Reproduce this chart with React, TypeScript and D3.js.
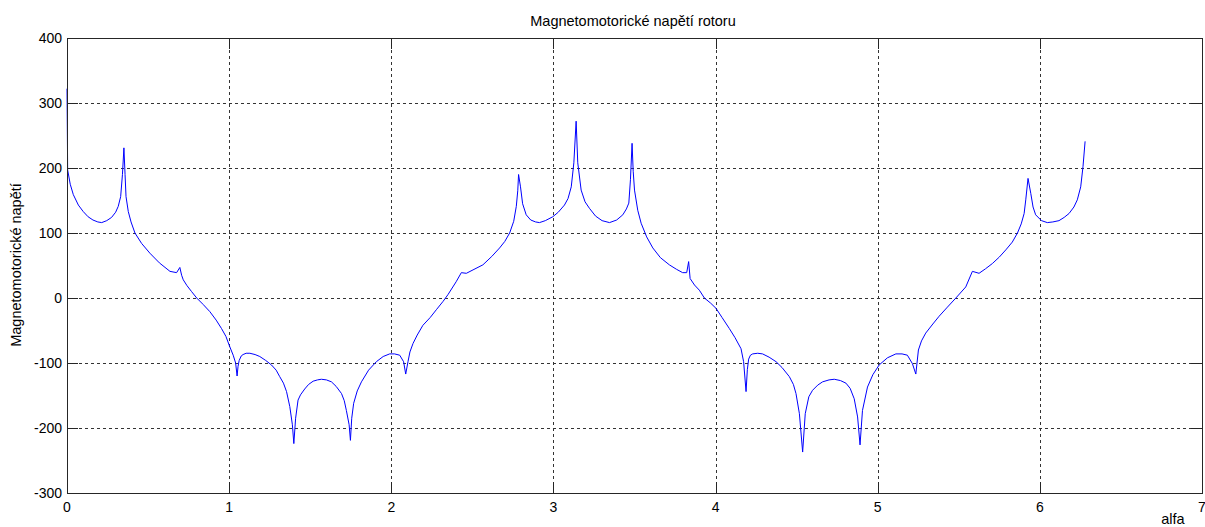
import React, { useEffect, useRef } from 'react';
import * as d3 from 'd3';

// uhel alfa [rad]
const alfa = [
  0, 0.004, 0.02, 0.039, 0.07, 0.10, 0.13, 0.16, 0.19, 0.214, 0.245, 0.275, 0.30, 0.316, 0.331, 0.342, 0.351, 0.358, 0.364,
  0.378, 0.395, 0.419, 0.46, 0.511, 0.57, 0.635, 0.676, 0.696, 0.707, 0.717, 0.74, 0.768, 0.80,
  0.84, 0.881, 0.92, 0.953, 0.98, 1.004, 1.025, 1.040, 1.049, 1.055, 1.062, 1.075, 1.086, 1.105, 1.128, 1.16, 1.189,
  1.225, 1.261, 1.29, 1.312, 1.335, 1.354, 1.374, 1.390, 1.399, 1.410, 1.425, 1.44, 1.466, 1.49, 1.518, 1.545, 1.569,
  1.60, 1.631, 1.66, 1.693, 1.71, 1.723, 1.740, 1.748, 1.756, 1.768, 1.79, 1.816, 1.86, 1.908, 1.95, 1.99, 2.02, 2.052,
  2.076, 2.089, 2.103, 2.115, 2.134, 2.16, 2.195, 2.24, 2.278, 2.32, 2.349,
  2.40, 2.432, 2.463, 2.51, 2.565, 2.62, 2.668, 2.70, 2.730, 2.755, 2.771, 2.780, 2.785, 2.797, 2.81, 2.832, 2.86, 2.89,
  2.914, 2.95, 2.996, 3.03, 3.068, 3.09, 3.11, 3.126, 3.14, 3.150, 3.171, 3.195, 3.222, 3.26, 3.30, 3.346, 3.39, 3.428,
  3.45, 3.465, 3.475, 3.485, 3.492, 3.5, 3.52, 3.541, 3.575, 3.613, 3.66, 3.715, 3.76, 3.797, 3.822, 3.834, 3.843, 3.87,
  3.90, 3.931,
  3.97, 4.003, 4.04, 4.085, 4.12, 4.157, 4.173, 4.188, 4.196, 4.204, 4.215, 4.229, 4.26, 4.29, 4.33, 4.373, 4.41, 4.455,
  4.48, 4.496, 4.517, 4.537, 4.553, 4.575, 4.598, 4.63, 4.66, 4.70, 4.732, 4.77, 4.804, 4.83, 4.855, 4.876, 4.891, 4.906,
  4.937, 4.97, 5.009, 5.06, 5.112, 5.15, 5.183, 5.214, 5.235, 5.251, 5.27, 5.296, 5.34, 5.379, 5.43, 5.482,
  5.543, 5.584, 5.625, 5.665, 5.707, 5.75, 5.79, 5.83, 5.862, 5.885, 5.903, 5.913, 5.927, 5.944, 5.958, 5.974, 6.01,
  6.046, 6.08, 6.118, 6.15, 6.18, 6.21, 6.231, 6.252, 6.266, 6.279,
];

// magnetomotoricke napeti rotoru
const mmf = [
  322, 197, 175, 159, 143, 133, 125, 120, 117, 116, 119, 124, 132, 141, 156, 190, 231, 190, 156,
  133, 117, 100, 84, 69, 54, 41, 39, 47, 35, 28, 19, 10, 0,
  -10, -21, -34, -47, -59, -75, -88, -100, -120, -105, -96, -89, -87, -85, -85, -87, -90,
  -96, -103, -111, -121, -131, -144, -167, -195, -224, -185, -157, -149, -140, -133, -128, -126, -125,
  -126, -129, -136, -147, -158, -173, -195, -219, -185, -162, -143, -129, -111, -98, -90, -86, -86, -88,
  -98, -117, -98, -83, -70, -57, -42, -30, -18, -5, 5,
  25, 39, 38, 44, 51, 64, 77, 87, 100, 118, 141, 165, 190, 171, 145, 128, 120, 117,
  116, 119, 125, 132, 143, 153, 171, 208, 272, 208, 166, 148, 138, 126, 119, 116, 120, 128,
  137, 146, 182, 238, 195, 166, 135, 115, 94, 77, 62, 51, 44, 39, 39, 56, 30, 20,
  12, 0,
  -8, -16, -30, -47, -61, -78, -98, -144, -110, -94, -88, -86, -85, -86, -91, -98, -107, -121,
  -133, -147, -178, -237, -178, -152, -142, -134, -129, -126, -125, -127, -131, -139, -155, -183, -226, -173,
  -137, -118, -103, -92, -86, -86, -88, -101, -117, -80, -66, -54, -40, -28, -14, 0,
  17, 41, 38, 45, 53, 63, 74, 86, 100, 114, 130, 151, 184, 161, 140, 128, 119,
  116, 117, 119, 124, 130, 140, 151, 171, 202, 241,
];

const xTicks = [0, 1, 2, 3, 4, 5, 6, 7];
const yTicks = [-300, -200, -100, 0, 100, 200, 300, 400];

const W = 1205;
const H = 527;
const FONT = '"Liberation Sans", Arial, sans-serif';

export default function App() {
  const ref = useRef<SVGSVGElement | null>(null);

  useEffect(() => {
    const svg = d3.select(ref.current);
    svg.selectAll('*').remove();

    const left = 67, right = 1202, top = 38, bottom = 493;

    const x = d3.scaleLinear().domain([0, 7]).range([left, right]);
    const y = d3.scaleLinear().domain([-300, 400]).range([bottom, top]);

    svg.append('rect').attr('width', W).attr('height', H).attr('fill', '#fff');

    // mrizka
    const grid = svg.append('g').attr('stroke', '#333').attr('stroke-width', 1).attr('stroke-dasharray', '3,3');
    grid.selectAll('line.gx')
      .data(xTicks.slice(1, -1))
      .enter()
      .append('line')
      .attr('x1', (d) => Math.round(x(d)) + 0.5)
      .attr('x2', (d) => Math.round(x(d)) + 0.5)
      .attr('y1', top)
      .attr('y2', bottom);
    grid.selectAll('line.gy')
      .data(yTicks.slice(1, -1))
      .enter()
      .append('line')
      .attr('y1', (d) => Math.round(y(d)) + 0.5)
      .attr('y2', (d) => Math.round(y(d)) + 0.5)
      .attr('x1', left)
      .attr('x2', right);

    // krivka
    const n = Math.min(alfa.length, mmf.length);
    const line = d3.line<number>()
      .x((d, i) => x(alfa[i]))
      .y((d) => y(d));

    svg.append('path')
      .datum(mmf.slice(0, n))
      .attr('fill', 'none')
      .attr('stroke', '#0000ff')
      .attr('stroke-width', 1)
      .attr('stroke-linejoin', 'round')
      .attr('d', line);

    // ramecek a znacky
    const tl = 11;
    const axes = svg.append('g').attr('stroke', '#262626').attr('stroke-width', 1);
    axes.append('rect')
      .attr('x', left + 0.5)
      .attr('y', top + 0.5)
      .attr('width', right - left)
      .attr('height', bottom - top)
      .attr('fill', 'none');
    xTicks.forEach((t) => {
      const px = Math.round(x(t)) + 0.5;
      axes.append('line').attr('x1', px).attr('x2', px).attr('y1', bottom).attr('y2', bottom - tl);
      axes.append('line').attr('x1', px).attr('x2', px).attr('y1', top).attr('y2', top + tl);
    });
    yTicks.forEach((t) => {
      const py = Math.round(y(t)) + 0.5;
      axes.append('line').attr('y1', py).attr('y2', py).attr('x1', left).attr('x2', left + tl);
      axes.append('line').attr('y1', py).attr('y2', py).attr('x1', right).attr('x2', right - tl);
    });

    const txt = svg.append('g').attr('font-family', FONT).attr('fill', '#000');

    txt.selectAll('text.xl')
      .data(xTicks)
      .enter()
      .append('text')
      .attr('x', (d) => x(d))
      .attr('y', 512)
      .attr('text-anchor', 'middle')
      .attr('font-size', 14)
      .text((d) => d);

    txt.selectAll('text.yl')
      .data(yTicks)
      .enter()
      .append('text')
      .attr('x', 62)
      .attr('y', (d) => y(d) + 5)
      .attr('text-anchor', 'end')
      .attr('font-size', 14)
      .text((d) => d);

    txt.append('text')
      .attr('x', 633)
      .attr('y', 26)
      .attr('text-anchor', 'middle')
      .attr('font-size', 14.5)
      .text('Magnetomotorické napětí rotoru');

    txt.append('text')
      .attr('transform', 'translate(21,265) rotate(-90)')
      .attr('text-anchor', 'middle')
      .attr('font-size', 14.5)
      .text('Magnetomotorické napětí');

    txt.append('text')
      .attr('x', 1173)
      .attr('y', 524)
      .attr('text-anchor', 'middle')
      .attr('font-size', 14.5)
      .text('alfa');
  }, []);

  return (
    <svg
      ref={ref}
      width={W}
      height={H}
      style={{ position: 'absolute', left: 0, top: 0, display: 'block' }}
    />
  );
}
